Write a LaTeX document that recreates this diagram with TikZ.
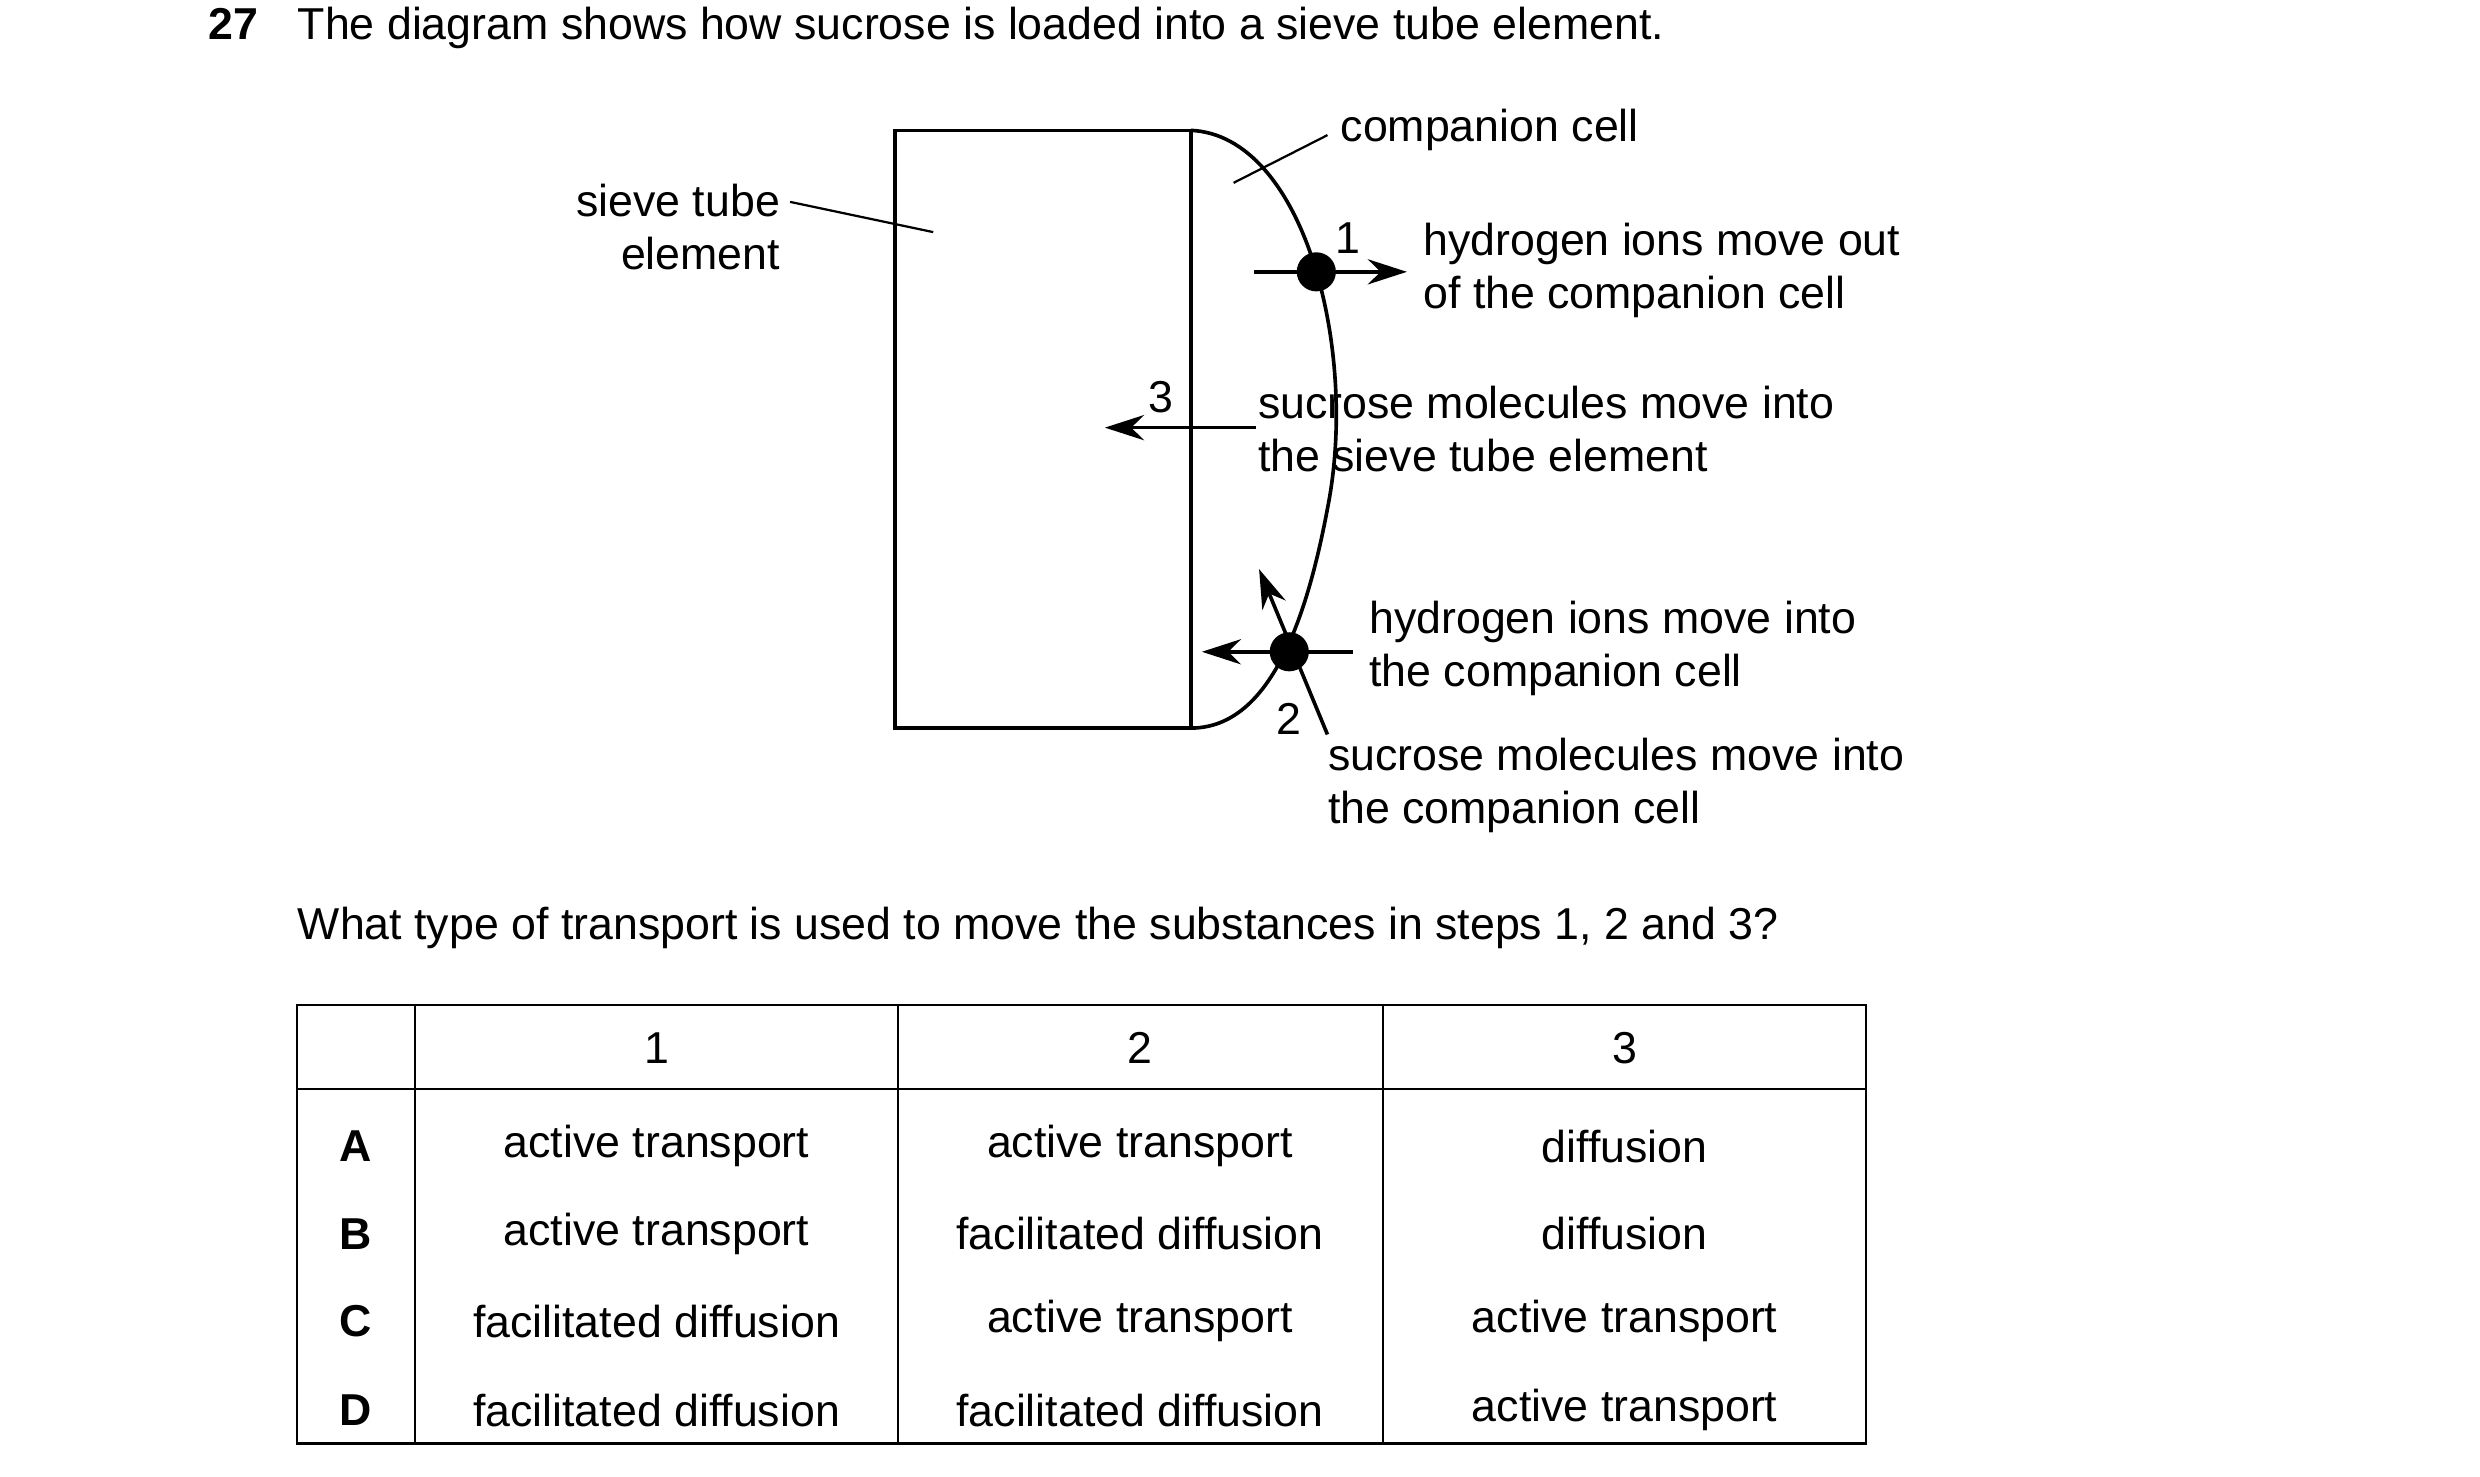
\documentclass[tikz,border=0pt]{standalone}
\usepackage{fontspec}
\setmainfont{Liberation Sans}
\usetikzlibrary{arrows.meta}
\begin{document}
\begin{tikzpicture}[x=0.02cm,y=-0.02cm,
  txt/.style={font=\fontsize{16}{19}\selectfont,inner sep=0pt},
  lbl/.style={txt,anchor=west,align=left},
  ln/.style={line width=1.3pt},
  thin/.style={line width=0.8pt},
  arr/.style={line width=1.3pt,-{Stealth[length=14pt,width=9pt]}},
  dot/.style={circle,fill=black,inner sep=0pt,minimum size=14pt}]
\useasboundingbox (0,0) rectangle (1560,929);
% title
\node[txt,anchor=base west,font=\fontsize{16}{19}\selectfont\bfseries] (num) at (131,25) {27};
\node[txt,anchor=base west] (title) at (187,25) {The diagram shows how sucrose is loaded into a sieve tube element.};
% cells
\draw[ln] (563,82) rectangle (749,458);
\draw[ln] (749,82) .. controls (820,85) and (855,220) .. (835,320) .. controls (820,400) and (795,458) .. (749,458);
% labels
\node[lbl] (cc) at (843,82) {companion cell};
\coordinate (cc1) at (835,85); \coordinate (cc2) at (776,115);
\draw[thin] (cc1) -- (cc2);
\node[txt,anchor=east,align=right] (ste) at (491,143) {sieve tube\\element};
\coordinate (s1) at (497,127); \coordinate (s2) at (587,146);
\draw[thin] (s1) -- (s2);
% point 1
\node[dot] (d1) at (828,171) {};
\coordinate (a1s) at (789,171); \coordinate (a1e) at (885,171);
\draw[arr] (a1s) -- (a1e);
\node[txt] (n1) at (848,150) {1};
\node[lbl] (t1) at (895,170) {hydrogen ions move out\\of the companion cell};
% 3
\coordinate (a3s) at (790,269); \coordinate (a3e) at (695,269);
\draw[arr] (a3s) -- (a3e);
\node[txt] (n3) at (730,250) {3};
\node[lbl] (t3) at (791,270) {sucrose molecules move into\\the sieve tube element};
% point 2
\node[dot] (d2) at (811,410) {};
\coordinate (a2s) at (851,410); \coordinate (a2e) at (756,410);
\draw[arr] (a2s) -- (a2e);
\coordinate (b2s) at (835,462); \coordinate (b2e) at (792,358);
\draw[arr] (b2s) -- (b2e);
\node[txt] (n2) at (811,452) {2};
\node[lbl] (t2) at (861,408) {hydrogen ions move into\\the companion cell};
\node[lbl] (t4) at (835,494) {sucrose molecules move into\\the companion cell};
% question
\node[txt,anchor=base west] (q) at (187,591) {What type of transport is used to move the substances in steps 1, 2 and 3?};
% table
\draw[thin] (187,632) rectangle (1174,908);
\draw[thin] (187,685) -- (1174,685);
\foreach \x in {261,565,870} \draw[thin] (\x,632) -- (\x,908);
\node[txt] (h1) at (413,659) {1};
\node[txt] (h2) at (717,659) {2};
\node[txt] (h3) at (1022,659) {3};
\foreach \y/\l/\a/\b/\c in {721/A/active transport/active transport/diffusion,
  776/B/active transport/facilitated diffusion/diffusion,
  831/C/facilitated diffusion/active transport/active transport,
  887/D/facilitated diffusion/facilitated diffusion/active transport}{
  \node[txt,font=\fontsize{16}{19}\selectfont\bfseries] at (224,\y) {\l};
  \node[txt] at (413,\y) {\a};
  \node[txt] at (717,\y) {\b};
  \node[txt] at (1022,\y) {\c};
}
\end{tikzpicture}
\end{document}
